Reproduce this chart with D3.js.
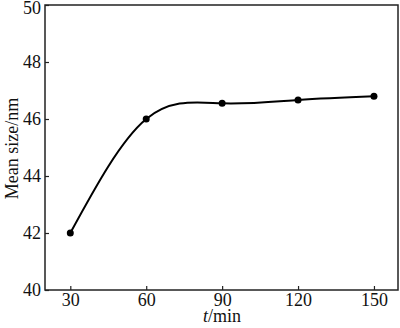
<!DOCTYPE html>
<html><head><meta charset="utf-8">
<script src="https://cdn.jsdelivr.net/npm/d3@7"></script>
<style>body{margin:0;background:#fff}svg{display:block}</style>
</head><body><svg id="c" width="400" height="328"></svg>
<script>
const times = [30, 60, 90, 120, 150];
const meanSize = [42.0, 46.0, 46.55, 46.67, 46.8];
const xTicks = [30, 60, 90, 120, 150];
const yTicks = [40, 42, 44, 46, 48, 50];

const svg = d3.select("#c");
const m = {l: 45, r: 398, t: 5, b: 290};
const x = d3.scaleLinear().domain([20, 159.5]).range([m.l, m.r]);
const y = d3.scaleLinear().domain([40, 50]).range([m.b, m.t]);
const font = "'Liberation Serif', 'Times New Roman', serif";

svg.append("rect").attr("x", m.l).attr("y", m.t).attr("width", m.r - m.l).attr("height", m.b - m.t)
  .attr("fill", "none").attr("stroke", "#222").attr("stroke-width", 1.5);

const xa = svg.append("g").attr("transform", `translate(0,${m.b})`)
  .call(d3.axisBottom(x).tickValues(xTicks).tickSize(-4).tickPadding(3));
const ya = svg.append("g").attr("transform", `translate(${m.l},0)`)
  .call(d3.axisLeft(y).tickValues(yTicks).tickSize(-4).tickPadding(4));
[xa, ya].forEach(a => {
  a.select(".domain").remove();
  a.selectAll("line").attr("stroke", "#222").attr("stroke-width", 1.2);
  a.selectAll("text").attr("font-family", font).attr("font-size", 18).attr("fill", "#111");
});
ya.selectAll(".tick").filter(d => d === 50).select("text").attr("dy", "0.45em");

const line = d3.line().x((d, i) => x(times[i])).y(d => y(d)).curve(d3.curveNatural);
svg.append("path").datum(meanSize).attr("d", line).attr("fill", "none")
  .attr("stroke", "#000").attr("stroke-width", 2);
svg.selectAll("circle.p").data(meanSize).join("circle").attr("class", "p")
  .attr("cx", (d, i) => x(times[i])).attr("cy", d => y(d)).attr("r", 3.5).attr("fill", "#000");

const xl = svg.append("text").attr("x", 222).attr("y", 322).attr("text-anchor", "middle")
  .attr("font-family", font).attr("font-size", 18).attr("fill", "#111");
xl.append("tspan").attr("font-style", "italic").text("t");
xl.append("tspan").text("/min");

svg.append("text").attr("transform", `translate(18,${(m.t + m.b) / 2 + 1}) rotate(-90)`)
  .attr("text-anchor", "middle").attr("font-family", font).attr("font-size", 18).attr("fill", "#111")
  .text("Mean size/nm");
</script></body></html>
